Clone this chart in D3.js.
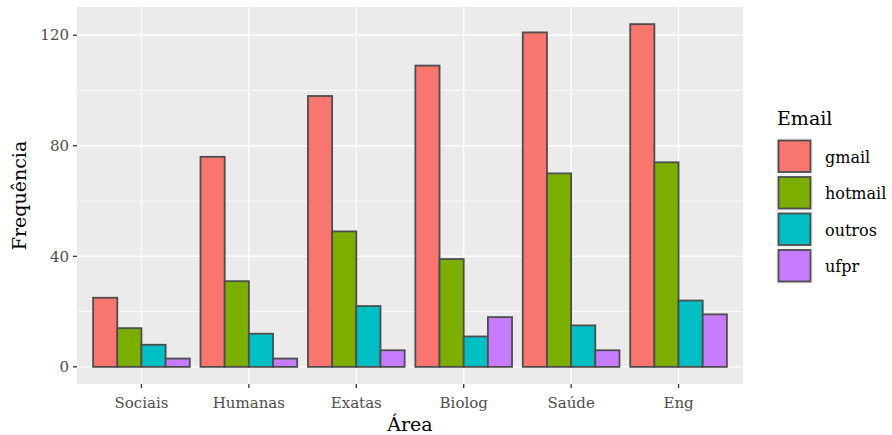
<!DOCTYPE html>
<html><head><meta charset="utf-8">
<script src="https://cdn.jsdelivr.net/npm/d3@7"></script>
<style>body{margin:0;background:#fff}text{font-family:"DejaVu Serif",serif}</style>
</head><body>
<svg id="c" width="892" height="435"></svg>
<script>
const areas = ["Sociais","Humanas","Exatas","Biolog","Saúde","Eng"];
const emails = ["gmail","hotmail","outros","ufpr"];
const colors = ["#F8766D","#7CAE00","#00BFC4","#C77CFF"];
const gmail   = [25, 76, 98, 109, 121, 124];
const hotmail = [14, 31, 49, 39, 70, 74];
const outros  = [8, 12, 22, 11, 15, 24];
const ufpr    = [3, 3, 6, 18, 6, 19];
const yTicks = [0, 40, 80, 120];
const yMinor = [20, 60, 100];

const series = {gmail, hotmail, outros, ufpr};
const svg = d3.select("#c");
const L = 77, R = 743, T = 7, B = 384;

const step = (R - L) / (areas.length - 1 + 1.2);
const x = d3.scalePoint().domain(areas).range([L + step * 0.6, R - step * 0.6]);
const maxV = d3.max(gmail);
const y = d3.scaleLinear().domain([-0.05 * maxV, maxV * 1.05]).range([B, T]);

svg.append("rect").attr("x", L).attr("y", T).attr("width", R - L).attr("height", B - T).attr("fill", "#EBEBEB");
const g = svg.append("g");
yMinor.forEach(v => g.append("line").attr("x1", L).attr("x2", R).attr("y1", y(v)).attr("y2", y(v)).attr("stroke", "#fff").attr("stroke-width", 0.7));
yTicks.forEach(v => g.append("line").attr("x1", L).attr("x2", R).attr("y1", y(v)).attr("y2", y(v)).attr("stroke", "#fff").attr("stroke-width", 1.4));
areas.forEach(a => g.append("line").attr("x1", x(a)).attr("x2", x(a)).attr("y1", T).attr("y2", B).attr("stroke", "#fff").attr("stroke-width", 1.4));

const sub = d3.scaleBand().domain(emails).range([-step * 0.45, step * 0.45]);
emails.forEach((e, k) => {
  svg.append("g").selectAll("rect").data(areas).join("rect")
    .attr("x", (a) => x(a) + sub(e))
    .attr("width", sub.bandwidth())
    .attr("y", (a, i) => y(series[e][i]))
    .attr("height", (a, i) => y(0) - y(series[e][i]))
    .attr("fill", colors[k]).attr("stroke", "#4D4D4D").attr("stroke-width", 1.8);
});

// axes
yTicks.forEach(v => {
  svg.append("line").attr("x1", L - 4).attr("x2", L).attr("y1", y(v)).attr("y2", y(v)).attr("stroke", "#333").attr("stroke-width", 1.3);
  svg.append("text").attr("x", L - 8).attr("y", y(v)).attr("dy", "0.35em").attr("text-anchor", "end")
    .attr("font-size", 15).attr("fill", "#4D4D4D").text(v);
});
areas.forEach(a => {
  svg.append("line").attr("x1", x(a)).attr("x2", x(a)).attr("y1", B).attr("y2", B + 4).attr("stroke", "#333").attr("stroke-width", 1.3);
  svg.append("text").attr("x", x(a)).attr("y", 408).attr("text-anchor", "middle")
    .attr("font-size", 15).attr("fill", "#4D4D4D").text(a);
});
svg.append("text").attr("x", (L + R) / 2).attr("y", 431).attr("text-anchor", "middle").attr("font-size", 19).attr("fill", "#000").text("Área");
svg.append("text").attr("transform", `translate(26,${(T + B) / 2}) rotate(-90)`).attr("text-anchor", "middle").attr("font-size", 19).attr("fill", "#000").text("Frequência");

// legend
svg.append("text").attr("x", 777).attr("y", 125).attr("font-size", 19).attr("fill", "#000").text("Email");
const keyH = 36.5;
emails.forEach((e, k) => {
  const ky = 138 + k * keyH;
  svg.append("rect").attr("x", 776).attr("y", ky).attr("width", 37).attr("height", keyH).attr("fill", "#F2F2F2");
  svg.append("rect").attr("x", 778.5).attr("y", ky + 2.5).attr("width", 32).attr("height", keyH - 5).attr("fill", colors[k]).attr("stroke", "#4D4D4D").attr("stroke-width", 1.8);
  svg.append("text").attr("x", 825).attr("y", ky + keyH / 2 + 1).attr("dy", "0.35em").attr("font-size", 16).attr("fill", "#000").text(e);
});
</script>
</body></html>
